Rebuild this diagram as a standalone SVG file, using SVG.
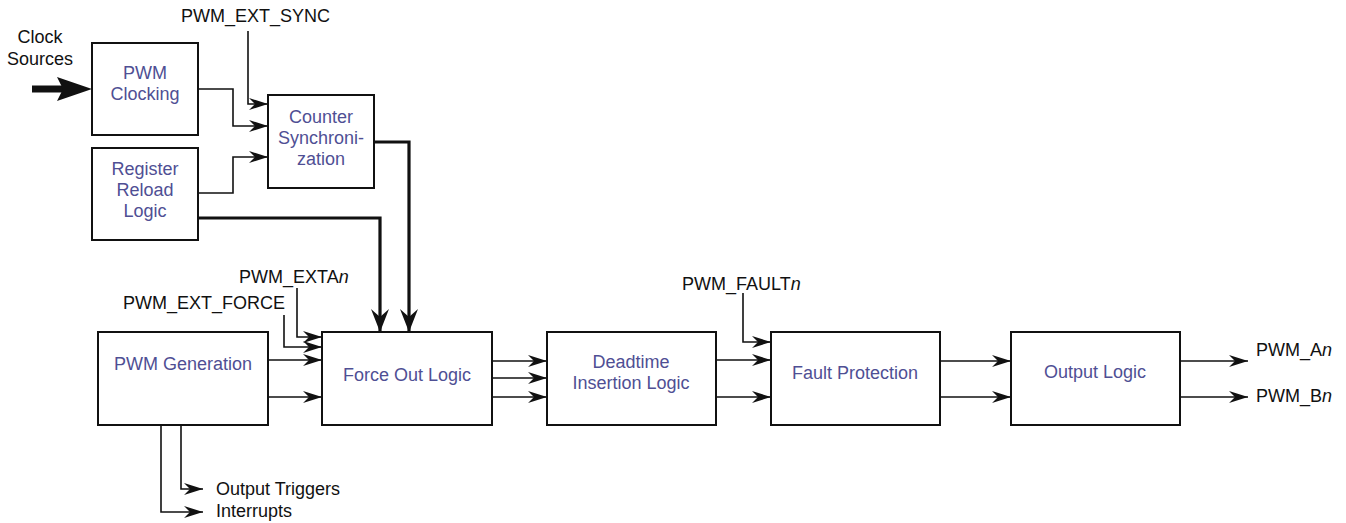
<svg xmlns="http://www.w3.org/2000/svg" width="1346" height="523" viewBox="0 0 1346 523">
<style>
.box{fill:#fff;stroke:#111;stroke-width:2}
.lbl{font-family:"Liberation Sans",Arial,sans-serif;font-size:18px;fill:#4f4f94;text-anchor:middle}
.sig{font-family:"Liberation Sans",Arial,sans-serif;font-size:18px;fill:#111}
.w{fill:none;stroke:#111;stroke-width:1.6}
.t{fill:none;stroke:#111;stroke-width:3.2}
</style>
<defs>
<marker id="a" markerUnits="userSpaceOnUse" markerWidth="20" markerHeight="14" refX="19" refY="7" orient="auto">
<path d="M0,1 L19,7 L0,13 L6,7 Z" fill="#111"/>
</marker>
<marker id="at" markerUnits="userSpaceOnUse" markerWidth="24" markerHeight="20" refX="23" refY="10" orient="auto">
<path d="M0,1 L23,10 L0,19 L8,10 Z" fill="#111"/>
</marker>
</defs>
<rect width="1346" height="523" fill="#fff"/>
<g id="connectors">
<path d="M32,89 H64" fill="none" stroke="#111" stroke-width="7"/>
<path d="M92,89 L57,77 L63,89 L57,101 Z" fill="#111"/>
<path class="w" d="M248,31 V104 H268" marker-end="url(#a)"/>
<path class="w" d="M198,89 H233 V126 H268" marker-end="url(#a)"/>
<path class="w" d="M198,193 H233 V157 H268" marker-end="url(#a)"/>
<path class="t" d="M198,218 H380 V332" marker-end="url(#at)"/>
<path class="t" d="M374,142 H409 V332" marker-end="url(#at)"/>
<path class="w" d="M297,288 V337 H322" marker-end="url(#a)"/>
<path class="w" d="M284,315 V347 H322" marker-end="url(#a)"/>
<path class="w" d="M268,360 H322" marker-end="url(#a)"/>
<path class="w" d="M268,397 H322" marker-end="url(#a)"/>
<path class="w" d="M181,425 V489 H203" marker-end="url(#a)"/>
<path class="w" d="M161,425 V512 H203" marker-end="url(#a)"/>
<path class="w" d="M492,361 H547" marker-end="url(#a)"/>
<path class="w" d="M492,378 H547" marker-end="url(#a)"/>
<path class="w" d="M492,397 H547" marker-end="url(#a)"/>
<path class="w" d="M743,293 V342 H771" marker-end="url(#a)"/>
<path class="w" d="M716,360 H771" marker-end="url(#a)"/>
<path class="w" d="M716,397 H771" marker-end="url(#a)"/>
<path class="w" d="M940,361 H1011" marker-end="url(#a)"/>
<path class="w" d="M940,397 H1011" marker-end="url(#a)"/>
<path class="w" d="M1180,361 H1248" marker-end="url(#a)"/>
<path class="w" d="M1180,397 H1248" marker-end="url(#a)"/>
</g>
<g id="clocking"><rect class="box" x="92" y="43" width="106" height="92"/>
<text class="lbl" x="145" y="79">PWM</text><text class="lbl" x="145" y="100">Clocking</text></g>
<g id="reload"><rect class="box" x="92" y="148" width="106" height="92"/>
<text class="lbl" x="145" y="175">Register</text><text class="lbl" x="145" y="196">Reload</text><text class="lbl" x="145" y="217">Logic</text></g>
<g id="countersync"><rect class="box" x="268" y="95" width="106" height="93"/>
<text class="lbl" x="321" y="123">Counter</text><text class="lbl" x="321" y="144">Synchroni-</text><text class="lbl" x="321" y="165">zation</text></g>
<g id="pwmgen"><rect class="box" x="98" y="332" width="170" height="93"/>
<text class="lbl" x="183" y="370">PWM Generation</text></g>
<g id="forceout"><rect class="box" x="322" y="332" width="170" height="93"/>
<text class="lbl" x="407" y="381">Force Out Logic</text></g>
<g id="deadtime"><rect class="box" x="547" y="332" width="169" height="93"/>
<text class="lbl" x="631" y="368">Deadtime</text><text class="lbl" x="631" y="389">Insertion Logic</text></g>
<g id="fault"><rect class="box" x="771" y="332" width="169" height="93"/>
<text class="lbl" x="855" y="379">Fault Protection</text></g>
<g id="outlogic"><rect class="box" x="1011" y="332" width="169" height="93"/>
<text class="lbl" x="1095" y="378">Output Logic</text></g>
<g id="signals" class="sig">
<text class="sig" x="40" y="43" text-anchor="middle">Clock</text>
<text class="sig" x="40" y="65" text-anchor="middle">Sources</text>
<text class="sig" x="181" y="22">PWM_EXT_SYNC</text>
<text class="sig" x="239" y="283">PWM_EXTA<tspan font-style="italic">n</tspan></text>
<text class="sig" x="123" y="309">PWM_EXT_FORCE</text>
<text class="sig" x="682" y="290">PWM_FAULT<tspan font-style="italic">n</tspan></text>
<text class="sig" x="1256" y="356">PWM_A<tspan font-style="italic">n</tspan></text>
<text class="sig" x="1256" y="402">PWM_B<tspan font-style="italic">n</tspan></text>
<text class="sig" x="216" y="495">Output Triggers</text>
<text class="sig" x="216" y="517">Interrupts</text>
</g>
</svg>
